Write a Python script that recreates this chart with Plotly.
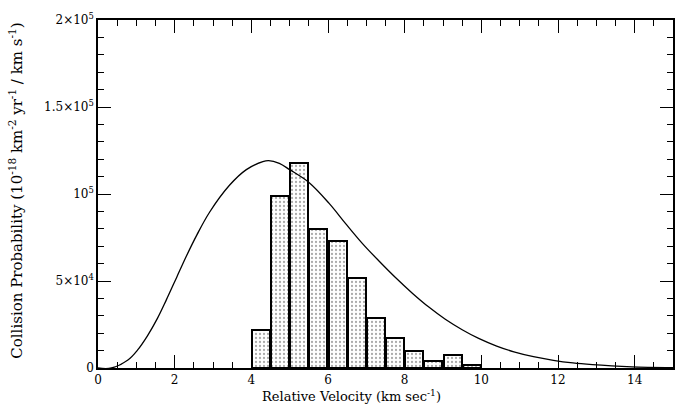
import plotly.graph_objects as go

# Histogram bins (km/s) and collision probability values
bin_centers = [4.25, 4.75, 5.25, 5.75, 6.25, 6.75, 7.25, 7.75, 8.25, 8.75, 9.25, 9.75]
bin_values = [22000, 99000, 118000, 80000, 73000, 52000, 29000, 17000, 9500, 4000, 7500, 2000]

# Smooth curve
curve_v = [0, 0.35, 0.78, 1.03, 1.29, 1.55, 1.78, 2.06, 2.31, 2.58, 2.91, 3.43, 3.87,
           4.30, 4.45, 4.73, 5.0, 5.51, 6.03, 6.46, 6.90, 7.33, 7.76, 8.20, 8.63, 9.06,
           9.50, 9.93, 10.4, 10.85, 11.36, 11.88, 12.39, 12.9, 13.4, 13.93, 15.0]
curve_p = [0, 0, 4600, 10300, 18500, 28500, 39000, 52500, 64500, 76500, 89500, 105000, 114000,
           118600, 119200, 117600, 114000, 106500, 94600, 83000, 71500, 61500, 52000, 43000,
           35000, 28000, 22000, 17000, 12600, 9300, 6500, 4400, 2900, 1900, 1200, 700, 200]

y_tickvals = [0, 50000, 100000, 150000, 200000]
y_ticktext = ["0", "5×10<sup>4</sup>", "10<sup>5</sup>", "1.5×10<sup>5</sup>", "2×10<sup>5</sup>"]
x_tickvals = [0, 2, 4, 6, 8, 10, 12, 14]

x_title = "Relative Velocity (km sec<sup>-1</sup>)"
y_title = "Collision Probability (10<sup>-18</sup> km<sup>-2</sup> yr<sup>-1</sup> / km s<sup>-1</sup>)"

FONT = "DejaVu Serif"

fig = go.Figure()
fig.add_trace(go.Bar(
    x=bin_centers, y=bin_values, width=0.47,
    marker=dict(color="white",
                line=dict(color="black", width=2),
                pattern=dict(shape=".", fgcolor="#555555", bgcolor="white", size=4, solidity=0.25)),
    showlegend=False,
))
fig.add_trace(go.Scatter(
    x=curve_v, y=curve_p, mode="lines",
    line=dict(color="black", width=1.3, shape="spline", smoothing=1.0),
    showlegend=False,
))

axis_common = dict(
    showline=True, linecolor="black", linewidth=1.5, mirror="allticks",
    ticks="inside", ticklen=13, tickwidth=1.2, tickcolor="black",
    showgrid=False, zeroline=False,
    tickfont=dict(family=FONT, size=12, color="black"),
)

fig.update_xaxes(
    range=[0, 15], tickvals=x_tickvals,
    minor=dict(dtick=0.5, tick0=0, ticks="inside", ticklen=6, tickwidth=1, tickcolor="black"),
    **axis_common,
)
fig.update_yaxes(
    range=[0, 200000], tickvals=y_tickvals, ticktext=y_ticktext,
    minor=dict(dtick=10000, tick0=0, ticks="inside", ticklen=6, tickwidth=1, tickcolor="black"),
    **axis_common,
)

fig.add_annotation(text=x_title, xref="paper", yref="paper", x=0.44, y=-0.08,
                   xanchor="center", yanchor="middle", showarrow=False,
                   font=dict(family=FONT, size=13, color="black"))
fig.add_annotation(text=y_title, xref="paper", yref="paper", x=-0.144, y=0.51,
                   xanchor="center", yanchor="middle", showarrow=False, textangle=-90,
                   font=dict(family=FONT, size=15, color="black"))

fig.update_layout(
    width=681, height=409,
    margin=dict(l=98, r=6, t=20, b=41),
    paper_bgcolor="white", plot_bgcolor="white",
    bargap=0,
)

fig.write_html("out.html", config={"displayModeBar": False},
               post_script="document.body.style.margin='0px';")
